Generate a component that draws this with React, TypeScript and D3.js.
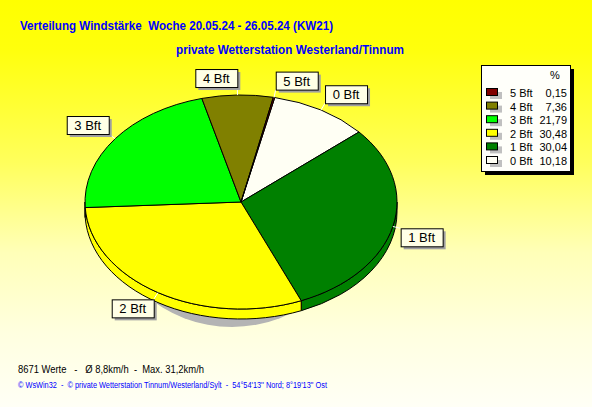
import React from 'react';
import * as d3 from 'd3';

// wind force classes, clockwise from the start angle
const categories = ['0 Bft', '1 Bft', '2 Bft', '3 Bft', '4 Bft', '5 Bft'];
const percents = [10.18, 30.04, 30.48, 21.79, 7.36, 0.15];
const percentLabels = ['10,18', '30,04', '30,48', '21,79', '7,36', '0,15'];
const colors = ['#fffff4', '#008000', '#ffff00', '#00ff00', '#808000', '#800000'];

const title = 'Verteilung Windstärke  Woche 20.05.24 - 26.05.24 (KW21)';
const subtitle = 'private Wetterstation Westerland/Tinnum';
const footer1 = '8671 Werte   -   Ø 8,8km/h  -  Max. 31,2km/h';
const footer2 = "© WsWin32  -  © private Wetterstation Tinnum/Westerland/Sylt  -  54°54'13'' Nord; 8°19'13'' Ost";

const W = 592;
const H = 407;
const cx = 241;
const cy = 202;
const rx = 156;
const ry = 107;
const depth = 10;
const startDeg = 12.5;

const pt = (a: number, dy = 0): [number, number] => [cx + rx * Math.sin(a), cy - ry * Math.cos(a) + dy];

const App = () => {
    const pie = d3
        .pie<number>()
        .sort(null)
        .startAngle((startDeg * Math.PI) / 180)
        .endAngle((startDeg * Math.PI) / 180 + 2 * Math.PI);
    const arcs = pie(percents);

    // top faces are circles squashed into the ellipse
    const arc = d3.arc<d3.PieArcDatum<number>>().innerRadius(0).outerRadius(rx);

    // side faces only for the front half
    const sides = arcs
        .map((d, i) => {
            const a1 = Math.max(d.startAngle, Math.PI / 2);
            const a2 = Math.min(d.endAngle, (3 * Math.PI) / 2);
            if (a1 >= a2) return null;
            const p1 = pt(a1);
            const p2 = pt(a2);
            const p3 = pt(a2, depth);
            const p4 = pt(a1, depth);
            const path = `M${p1[0]},${p1[1]}A${rx},${ry} 0 0 1 ${p2[0]},${p2[1]}L${p3[0]},${p3[1]}A${rx},${ry} 0 0 0 ${p4[0]},${p4[1]}Z`;
            return { path, color: colors[i] };
        })
        .filter(Boolean) as { path: string; color: string }[];

    const labels = arcs.map((d, i) => {
        const m = (d.startAngle + d.endAngle) / 2;
        const edge = pt(m);
        const ax = cx + (rx + 8) * Math.sin(m);
        const ay = cy - (ry + 8) * Math.cos(m);
        const bw = 42;
        const bh = 18;
        const bx = Math.sin(m) >= 0 ? ax : ax - bw;
        const by = Math.cos(m) >= 0 ? ay - bh : ay;
        return { edge, ax, ay, bx, by, bw, bh, text: categories[i] };
    });

    const legendOrder = d3.range(categories.length).reverse();
    const rowY = d3.scaleLinear().domain([0, 5]).range([97, 165]);

    return (
        <svg width={W} height={H} style={{ position: 'absolute', left: 0, top: 0 }} fontFamily="'Liberation Sans', Arial, sans-serif">
            <defs>
                <linearGradient id="bg" x1="0" y1="0" x2="0" y2="1">
                    <stop offset="0" stopColor="#ffff00" />
                    <stop offset="0.12" stopColor="#ffff0c" />
                    <stop offset="0.4" stopColor="#ffff5c" />
                    <stop offset="0.62" stopColor="#ffffb8" />
                    <stop offset="0.82" stopColor="#ffffe0" />
                    <stop offset="1" stopColor="#fffff6" />
                </linearGradient>
            </defs>
            <rect width={W} height={H} fill="url(#bg)" />

            <text x={20} y={30} fill="#0000ff" fontWeight="bold" fontSize={13} textLength={313} lengthAdjust="spacingAndGlyphs" style={{ whiteSpace: 'pre' }}>
                {title}
            </text>
            <text x={176} y={54} fill="#0000ff" fontWeight="bold" fontSize={13} textLength={228} lengthAdjust="spacingAndGlyphs">
                {subtitle}
            </text>

            {/* shadow */}
            <ellipse cx={232} cy={212} rx={125} ry={115} fill="#b4b4b4" />

            {sides.map((s, i) => (
                <path key={i} d={s.path} fill={s.color} stroke="#000" strokeWidth={1} />
            ))}

            <g transform={`translate(${cx},${cy}) scale(1,${ry / rx})`}>
                {arcs.map((d, i) => (
                    <path key={i} d={arc(d) || ''} fill={colors[i]} stroke="#000" strokeWidth={1} vectorEffect="non-scaling-stroke" />
                ))}
            </g>

            {labels.map((l, i) => (
                <g key={i}>
                    <line x1={l.edge[0]} y1={l.edge[1]} x2={l.ax} y2={l.ay} stroke="#fff" strokeWidth={1} />
                    <rect x={l.bx + 3} y={l.by + 3} width={l.bw} height={l.bh} fill="#a0a0a0" />
                    <rect x={l.bx + 0.5} y={l.by + 0.5} width={l.bw} height={l.bh} fill="#ffffe6" stroke="#000" />
                    <text x={l.bx + l.bw / 2} y={l.by + 14} textAnchor="middle" fontSize={13} fill="#000">
                        {l.text}
                    </text>
                </g>
            ))}

            {/* legend */}
            <rect x={485} y={69} width={89} height={106} fill="#000" />
            <rect x={481.5} y={65.5} width={89} height={106} fill="#fffffa" stroke="#000" />
            <text x={555} y={79} fontSize={11} textAnchor="middle" fill="#000">%</text>
            {legendOrder.map((ci, r) => (
                <g key={ci}>
                    <rect x={490} y={rowY(r) - 5} width={12} height={7} fill="#c0c0c0" />
                    <rect x={486.5} y={rowY(r) - 8.5} width={11} height={7} fill={colors[ci]} stroke="#000" />
                    <text x={510} y={rowY(r)} fontSize={11} fill="#000">{categories[ci]}</text>
                    <text x={567} y={rowY(r)} fontSize={11} fill="#000" textAnchor="end">{percentLabels[ci]}</text>
                </g>
            ))}

            <text x={18} y={373} fontSize={11.5} fill="#000" textLength={186} lengthAdjust="spacingAndGlyphs" style={{ whiteSpace: 'pre' }}>
                {footer1}
            </text>
            <text x={18} y={388} fontSize={8.5} fill="#0000ff" textLength={309} lengthAdjust="spacingAndGlyphs" style={{ whiteSpace: 'pre' }}>
                {footer2}
            </text>
        </svg>
    );
};

export default App;
